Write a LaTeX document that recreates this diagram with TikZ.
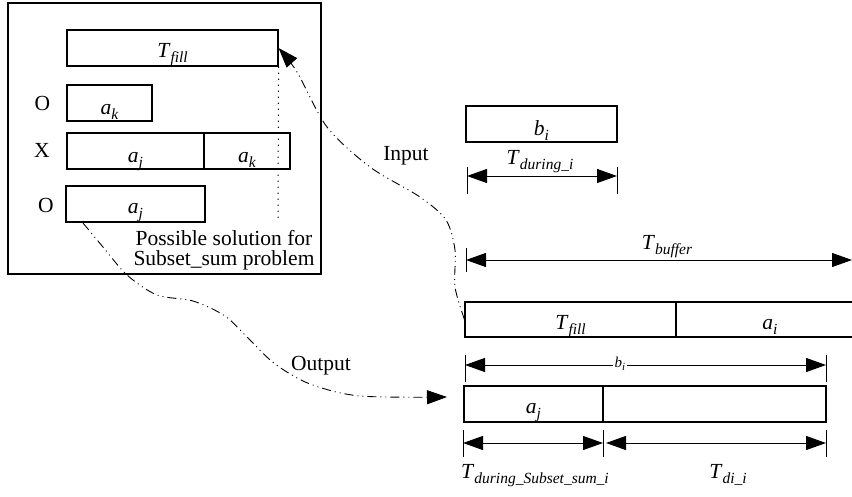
\documentclass[tikz,border=0pt]{standalone}
\usepackage{fontspec}
\setmainfont{Liberation Serif}
\usetikzlibrary{arrows.meta}
% italic symbol with a lowered italic subscript
\newcommand\symb[2]{\textit{#1}\raisebox{-5pt}{\fontsize{15.5}{15.5}\selectfont\textit{#2}}}
\newcommand\smallsymb[2]{{\fontsize{15}{15}\selectfont\textit{#1}\raisebox{-3pt}{\fontsize{11}{11}\selectfont\textit{#2}}}}

\begin{document}
\begin{tikzpicture}[x=1pt,y=-1pt,
  font=\fontsize{21.5}{22}\selectfont,
  cell/.style={draw, line width=1.1pt, inner sep=0pt, minimum height=36pt},
  tick/.style={line width=1pt},
  tip/.tip={Triangle[length=20pt,width=14pt]},
  dim/.style={line width=1pt, tip-tip},
  flow/.style={line width=0.9pt, dash pattern=on 9pt off 4pt on 1pt off 4pt on 1pt off 4pt, -tip},
  lbl/.style={inner sep=1pt},
  sym/.style={inner sep=0pt, anchor=base}]

\useasboundingbox (0,0) rectangle (852,496);

% frame holding the candidate subsets
\node[draw, line width=1.1pt, inner sep=0pt, minimum width=313pt, minimum height=271pt] (frame) at (164.5,138.5) {};

\node[cell, minimum width=211pt] (tf) at (172.5,48) {};
\node[cell, minimum width=85pt] (ak1) at (109.5,103) {};
\node[cell, minimum width=137pt] (xaj) at (135.5,151) {};
\node[cell, minimum width=86pt] (xak) at (247,151) {};
\node[cell, minimum width=139pt] (oaj) at (135.5,204) {};
\node[sym] (tftxt) at (172.5,57) {\symb{T}{fill}};
\node[sym] (ak1txt) at (109.5,114) {\symb{a}{k}};
\node[sym] (xajtxt) at (135.5,162) {\symb{a}{j}};
\node[sym] (xaktxt) at (247,162) {\symb{a}{k}};
\node[sym] (oajtxt) at (135.5,213) {\symb{a}{j}};

\node[lbl] (m1) at (42.5,103) {O};
\node[lbl] (m2) at (42,150) {X};
\node[lbl] (m3) at (46,205) {O};

\draw[line width=1pt, dash pattern=on 1.2pt off 4.8pt] (tf.south east) -- (278,218);
\node[sym, align=center, font=\fontsize{21.5}{20}\selectfont] (sol) at (224,265) {Possible solution for\\Subset\_sum problem};

% incoming block and its duration
\node[cell, minimum width=151pt] (bi) at (541.5,124) {};
\node[sym] (bitxt) at (541.5,135) {\symb{b}{i}};
\draw[tick] (467,167) -- (467,194);
\draw[tick] (617,167) -- (617,194);
\draw[dim] (467,176) -- (617,176);
\node[sym] (tdi) at (540,164) {\symb{T}{during\_i}};

% buffer length
\draw[tick] (466,248) -- (466,272);
\draw[dim] (466,260) -- (852,260);
\node[sym] (tbuf) at (667,249) {\symb{T}{buffer}};

% buffer contents
\node[cell, minimum width=211pt, minimum height=35pt] (rowfill) at (570.5,319.5) {};
\node[cell, minimum width=180pt, minimum height=35pt] (rowai) at (766,319.5) {};
\node[sym] (rftxt) at (570.5,329) {\symb{T}{fill}};
\node[sym] (raitxt) at (770,329) {\symb{a}{i}};

\draw[tick] (465,355) -- (465,382);
\draw[tick] (826,355) -- (826,382);
\draw[dim] (465,365) -- (826,365);
\node[lbl, fill=white, inner sep=2pt] (bsmall) at (620,364) {\smallsymb{b}{i}};

% output row
\node[cell, minimum width=139pt] (ajrow) at (533.5,404) {};
\node[cell, minimum width=223pt] (rest) at (714.5,404) {};
\node[sym] (ajtxt) at (533.5,413) {\symb{a}{j}};

\draw[tick] (463,430) -- (463,457);
\draw[tick] (603,430) -- (603,457);
\draw[tick] (826,430) -- (826,457);
\draw[dim] (463,443) -- (603,443);
\draw[dim] (606,443) -- (826,443);
\node[sym] (tdss) at (535,478) {\symb{T}{during\_Subset\_sum\_i}};
\node[sym] (tdii) at (728,478) {\symb{T}{di\_i}};

% data flow between the buffer and the subset-sum solver
\node[sym] (inlbl) at (406,160) {Input};
\node[sym] (outlbl) at (321,370) {Output};
\coordinate (outend) at (447,397);
\coordinate (outstart) at (83,223);

\draw[flow] plot[smooth] coordinates {(rowfill.west) (455,287) (455,250) (446,220) (420,197) (370,167) (327,127) (297,72) (tf.east)};
\draw[flow] plot[smooth] coordinates {(outstart) (103,247) (127,275) (157,295) (193,301) (225,316) (250,340) (275,364) (310,384) (360,396) (outend)};
\end{tikzpicture}
\end{document}
